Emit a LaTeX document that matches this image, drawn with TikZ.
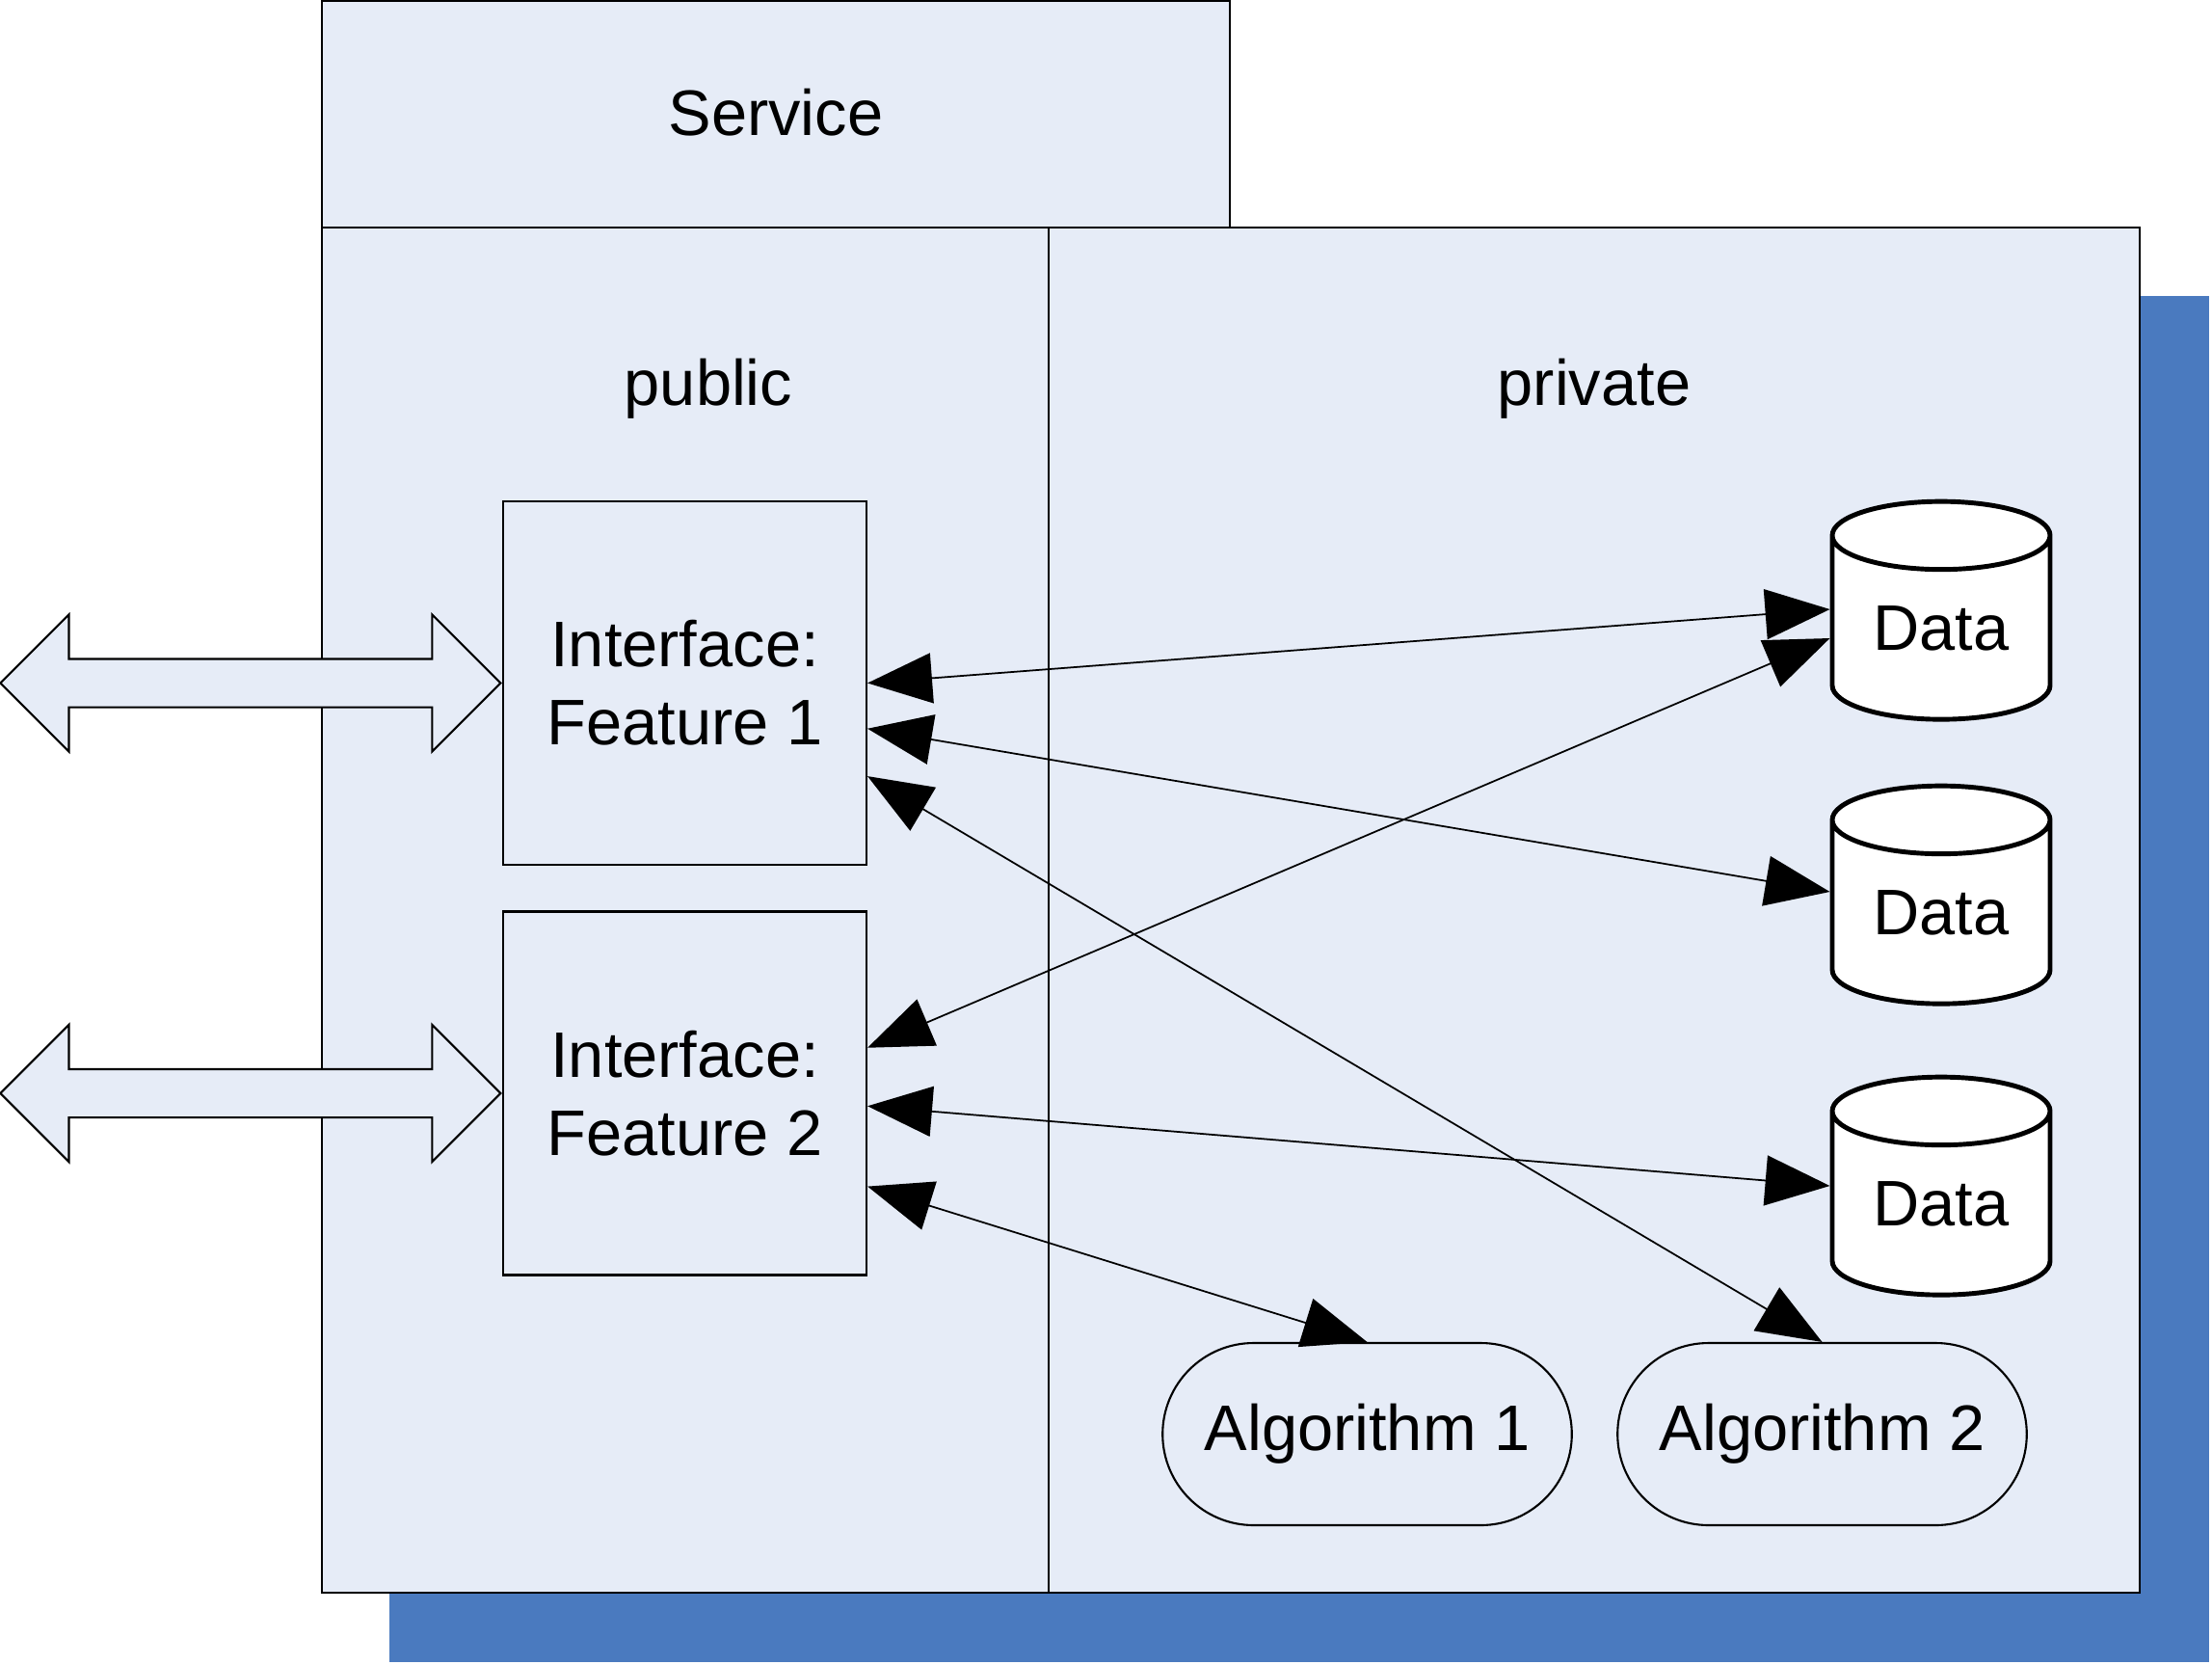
\documentclass[tikz,border=0pt]{standalone}
\usepackage{fontspec}
\setmainfont{Liberation Sans}
\usetikzlibrary{arrows.meta,positioning,shapes.geometric,shapes.misc,shapes.arrows}

\definecolor{paneblue}{RGB}{230,236,247}
\definecolor{shadowblue}{RGB}{74,122,191}

\begin{document}
\begin{tikzpicture}[
    every node/.style={font=\fontsize{19pt}{23pt}\selectfont},
    >={Triangle[length=6.7mm,width=5.2mm]},
    pane/.style={fill=paneblue, draw=black, line width=0.6pt},
    featbox/.style={pane, minimum width=3.77cm, minimum height=3.77cm, align=center, inner sep=0pt},
    store/.style={cylinder, shape border rotate=90, aspect=0.5, draw=black, fill=white,
        line width=1.4pt, minimum width=2.26cm, minimum height=2.26cm, inner sep=0pt},
    algo/.style={rounded rectangle, pane, minimum width=4.48cm, minimum height=1.89cm},
    port/.style={double arrow, double arrow head extend=0.46cm, pane,
        minimum width=1.4cm, minimum height=5.19cm, inner xsep=0pt, inner ysep=0.24cm},
    link/.style={<->, line width=0.5pt},
]
\useasboundingbox (0,0) rectangle (22.95,-17.26);

% === Shadow behind the service body ===
\fill[shadowblue] (4.04,-3.07) rectangle (22.92,-17.24);

% === Service header and body ===
\draw[pane] (3.34,-0.01) rectangle (12.76,-2.36);
\node (service) at (8.05,-1.17) {Service};
\draw[pane] (3.34,-2.36) rectangle (22.20,-16.52);
\draw[line width=0.6pt] (10.88,-2.36) -- (10.88,-16.52);
\node (public) at (7.35,-4.03) {public};
\node (private) at (16.54,-4.03) {private};

% === Interfaces ===
\node[featbox] (f1) at (7.105,-7.085) {Interface:\\Feature 1};
\node[featbox] (f2) at (7.105,-11.34) {Interface:\\Feature 2};
\node[port, left=0pt of f1] (p1) {};
\node[port, left=0pt of f2] (p2) {};

% === Private data and algorithms ===
\node[store] (d1) at (20.14,-6.52) {Data};
\node[store] (d2) at (20.14,-9.47) {Data};
\node[store] (d3) at (20.14,-12.49) {Data};
\node[algo] (a1) at (14.185,-14.875) {Algorithm 1};
\node[algo] (a2) at (18.905,-14.875) {Algorithm 2};

% === Connections ===
\draw[link] (f1.east) -- ([yshift=0.20cm]d1.west);
\draw[link] (f1.-14) -- ([yshift=0.22cm]d2.west);
\draw[link] (f1.-27) -- (a2.north);
\draw[link] (f2.14) -- ([yshift=-0.10cm]d1.west);
\draw[link] (f2.-4) -- ([yshift=0.19cm]d3.west);
\draw[link] (f2.-27) -- (a1.north);

\end{tikzpicture}
\end{document}
